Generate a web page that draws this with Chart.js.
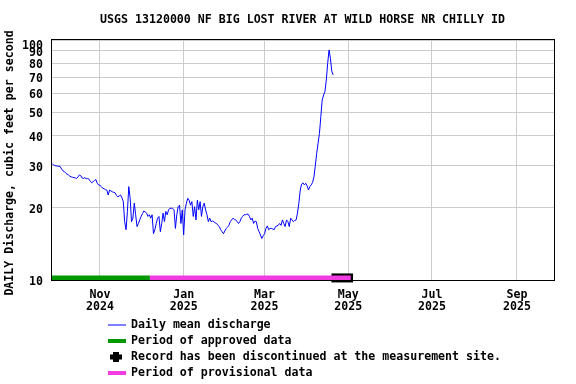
<!DOCTYPE html>
<html><head><meta charset="utf-8">
<script src="https://cdn.jsdelivr.net/npm/chart.js@4/dist/chart.umd.min.js"></script>
<style>html,body{margin:0;padding:0;background:#fff}canvas{display:block}</style>
</head><body>
<canvas id="c" width="576" height="384"></canvas>
<script>
const TITLE = 'USGS 13120000 NF BIG LOST RIVER AT WILD HORSE NR CHILLY ID';
const Y_TITLE = 'DAILY Discharge, cubic feet per second';
const startDate = '2024-09-27T00:00:00Z'; // first daily value
const dischargeValues = [
  30.6, 30.2, 30.0, 29.9, 29.8, 29.8, 29.7, 29.0, 28.5, 28.3,
  27.9, 27.6, 27.4, 27.1, 26.9, 26.8, 26.7, 26.6, 26.5, 26.9,
  27.4, 27.2, 26.6, 26.5, 26.7, 26.4, 26.5, 26.3, 25.8, 25.4,
  25.7, 26.0, 26.2, 25.3, 24.9, 24.8, 24.5, 24.1, 24.0, 23.8,
  23.7, 22.6, 23.7, 23.5, 23.3, 23.2, 23.1, 22.5, 22.2, 22.4,
  22.6, 22.0, 21.2, 17.5, 16.2, 19.3, 24.5, 21.9, 17.5, 18.1,
  20.9, 18.7, 16.7, 17.2, 17.8, 18.4, 18.9, 19.4, 19.2, 19.0,
  18.4, 18.7, 18.1, 18.7, 15.6, 16.2, 17.2, 18.1, 18.4, 15.9,
  17.2, 19.0, 17.5, 19.3, 18.7, 19.6, 19.9, 19.9, 19.9, 19.6,
  16.4, 18.7, 20.2, 20.5, 17.2, 19.6, 15.4, 19.6, 20.9, 21.9,
  21.5, 20.5, 21.2, 18.4, 20.2, 17.8, 21.5, 19.6, 21.2, 18.4,
  20.2, 20.9, 19.6, 18.7, 17.5, 18.1, 17.5, 17.6, 17.5, 17.3,
  17.2, 16.9, 16.7, 16.2, 15.9, 15.6, 16.0, 16.4, 16.6, 16.9,
  17.5, 17.8, 18.1, 17.9, 17.8, 17.5, 17.2, 17.5, 18.1, 18.4,
  18.7, 18.7, 18.8, 18.8, 18.4, 17.8, 18.1, 17.2, 17.6, 17.5,
  16.4, 15.9, 15.4, 14.9, 15.3, 15.6, 16.4, 16.8, 16.2, 16.4,
  16.4, 16.3, 16.2, 16.7, 16.8, 16.9, 17.2, 16.9, 17.8, 17.2,
  16.7, 17.8, 17.5, 16.7, 18.1, 17.8, 17.5, 17.7, 17.8, 19.0,
  20.9, 23.7, 25.1, 25.4, 24.9, 25.3, 24.7, 23.7, 24.5, 24.9,
  25.5, 26.9, 30.0, 33.7, 37.1, 40.8, 47.9, 56.2, 59.0, 60.9,
  68.1, 80.0, 90.9, 84.0, 74.0, 71.5
];
const yTicks = [10, 20, 30, 40, 50, 60, 70, 80, 90, 100];
const xTickDates = ['2024-11-01', '2025-01-01', '2025-03-01', '2025-05-01', '2025-07-01', '2025-09-01'];
const xTickLabels = [['Nov', '2024'], ['Jan', '2025'], ['Mar', '2025'], ['May', '2025'], ['Jul', '2025'], ['Sep', '2025']];
const xRange = ['2024-09-26T07:00:00Z', '2025-09-28T00:00:00Z'];
const approvedPeriod = ['2024-09-26T07:00:00Z', '2024-12-07T10:00:00Z'];
const provisionalPeriod = ['2024-12-07T10:00:00Z', '2025-05-02T20:00:00Z'];
const discontinuedSpan = ['2025-04-18T18:00:00Z', '2025-05-04T12:00:00Z'];
const periodLevel = 10.2;
const legendLabels = ['Daily mean discharge', 'Period of approved data',
  'Record has been discontinued at the measurement site.', 'Period of provisional data'];
const COLORS = { line: '#0000ff', approved: '#009a00', provisional: '#f03ce0', discontinued: '#000000', grid: '#cccccc' };

const DAY = 864e5;
const t0 = Date.parse(startDate);
const FONT = 'bold 11.6px "DejaVu Sans Mono", monospace';

const span = (p, lvl) => [{ x: Date.parse(p[0]), y: lvl }, { x: Date.parse(p[1]), y: lvl }];

const overlay = {
  id: 'overlay',
  afterDraw(chart) {
    const { ctx, chartArea: a } = chart;
    ctx.save();
    // plot frame
    ctx.strokeStyle = '#000'; ctx.lineWidth = 1;
    ctx.strokeRect(a.left + 0.5, a.top - 0.5, a.right - a.left, a.bottom - a.top + 1);
    ctx.fillStyle = '#000';
    ctx.font = FONT;
    // title
    ctx.textAlign = 'center'; ctx.textBaseline = 'middle';
    ctx.fillText(TITLE, (a.left + a.right) / 2, 20);
    // y title
    ctx.save();
    ctx.translate(13, (a.top + a.bottom) / 2 + 3);
    ctx.rotate(-Math.PI / 2);
    ctx.textAlign = 'center'; ctx.textBaseline = 'alphabetic';
    ctx.fillText(Y_TITLE, 0, 0);
    ctx.restore();
    // legend
    const lx = 108, tx = 131, rows = [325, 341, 357, 373];
    ctx.textAlign = 'left'; ctx.textBaseline = 'middle';
    ctx.fillStyle = COLORS.line; ctx.fillRect(lx, rows[0] - 0.5, 18, 1);
    ctx.fillStyle = COLORS.approved; ctx.fillRect(lx, rows[1] - 2, 18, 4);
    ctx.fillStyle = COLORS.discontinued;
    ctx.fillRect(lx + 2, rows[2] - 2.5, 12, 5);
    ctx.fillRect(lx + 5, rows[2] - 5, 6, 10);
    ctx.fillStyle = COLORS.provisional; ctx.fillRect(lx, rows[3] - 2, 18, 4);
    ctx.fillStyle = '#000';
    legendLabels.forEach((t, i) => ctx.fillText(t, tx, rows[i]));
    ctx.restore();
  }
};

new Chart(document.getElementById('c'), {
  type: 'line',
  data: {
    datasets: [
      { label: legendLabels[0], data: dischargeValues.map((v, i) => ({ x: t0 + i * DAY, y: v })),
        borderColor: COLORS.line, borderWidth: 1, pointRadius: 0, tension: 0, order: 0 },
      { label: legendLabels[3], data: span(provisionalPeriod, periodLevel),
        borderColor: COLORS.provisional, borderWidth: 5, pointRadius: 0, borderCapStyle: 'butt', order: 1, clip: false },
      { label: legendLabels[1], data: span(approvedPeriod, periodLevel),
        borderColor: COLORS.approved, borderWidth: 5, pointRadius: 0, borderCapStyle: 'butt', order: 2, clip: false },
      { label: legendLabels[2], data: span(discontinuedSpan, periodLevel),
        borderColor: COLORS.discontinued, borderWidth: 9, pointRadius: 0, borderCapStyle: 'butt', order: 3, clip: false }
    ]
  },
  options: {
    responsive: false, animation: false, devicePixelRatio: 1,
    layout: { padding: { top: 40, right: 22, left: 0, bottom: 0 } },
    plugins: { legend: { display: false }, tooltip: { enabled: false }, title: { display: false } },
    font: { family: '"DejaVu Sans Mono", monospace' },
    scales: {
      x: {
        type: 'linear', min: Date.parse(xRange[0]), max: Date.parse(xRange[1]),
        afterBuildTicks: s => { s.ticks = xTickDates.map(d => ({ value: Date.parse(d + 'T00:00:00Z') })); },
        afterFit: s => { s.height = 104; s.paddingLeft = 0; s.paddingRight = 0; },
        ticks: {
          autoSkip: false, maxRotation: 0, padding: 8.5, color: '#000',
          font: { family: '"DejaVu Sans Mono", monospace', size: 11.6, weight: 'bold', lineHeight: '12px' },
          callback: (v, i) => xTickLabels[i]
        },
        grid: { color: COLORS.grid, drawTicks: false, lineWidth: 1 },
        border: { display: false }
      },
      y: {
        type: 'logarithmic', min: 10, max: 100,
        afterBuildTicks: s => { s.ticks = yTicks.map(v => ({ value: v })); },
        afterFit: s => { s.width = 51; s.paddingTop = 0; s.paddingBottom = 0; },
        ticks: {
          autoSkip: false, padding: 8, color: '#000',
          font: { family: '"DejaVu Sans Mono", monospace', size: 11.6, weight: 'bold', lineHeight: '4px' },
          callback: v => (v === 100 ? ['', '', '', '100'] : ['', String(v)])
        },
        grid: { color: COLORS.grid, drawTicks: false, lineWidth: 1 },
        border: { display: false }
      }
    }
  },
  plugins: [overlay]
});
</script>
</body></html>
